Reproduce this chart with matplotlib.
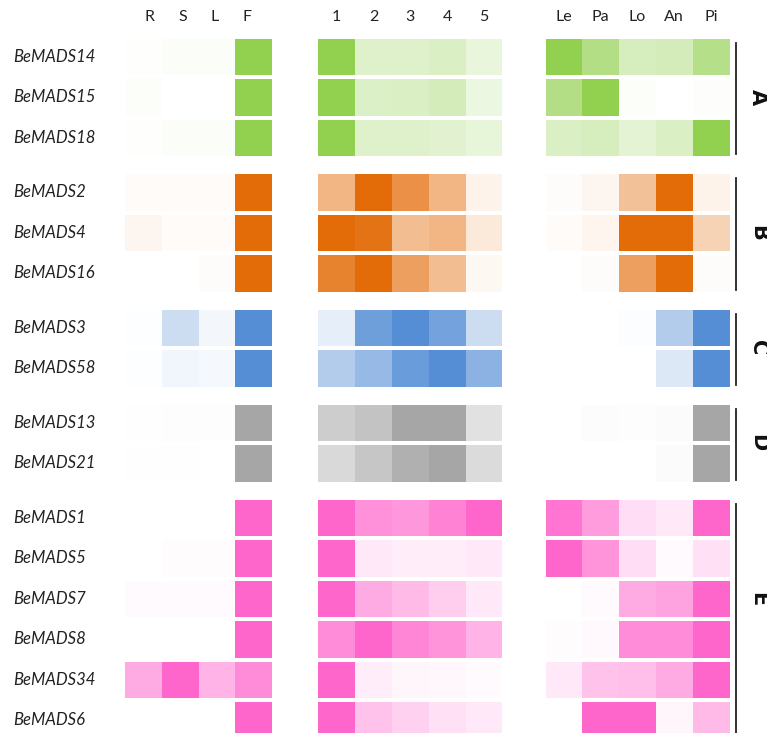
import numpy as np
import matplotlib.pyplot as plt
from matplotlib.patches import Rectangle
from matplotlib.colors import to_rgb

genes = ['BeMADS14', 'BeMADS15', 'BeMADS18',
         'BeMADS2', 'BeMADS4', 'BeMADS16',
         'BeMADS3', 'BeMADS58',
         'BeMADS13', 'BeMADS21',
         'BeMADS1', 'BeMADS5', 'BeMADS7', 'BeMADS8', 'BeMADS34', 'BeMADS6']
group_names = ['A', 'B', 'C', 'D', 'E']
group_sizes = [3, 3, 2, 2, 6]
group_colors = ['#92D050', '#E36C09', '#558ED5', '#A6A6A6', '#FF66CC']
label_row = [1, 1, 0.5, 0.5, 2]  # row (within group) the side letter sits on

tissue_cols = ['R', 'S', 'L', 'F']
stage_cols = ['1', '2', '3', '4', '5']
organ_cols = ['Le', 'Pa', 'Lo', 'An', 'Pi']

# relative expression, 0 = white, 1 = full group colour
tissue = [
    [0.01, 0.04, 0.04, 1.0],
    [0.03, 0.00, 0.00, 1.0],
    [0.01, 0.04, 0.04, 1.0],
    [0.03, 0.03, 0.03, 1.0],
    [0.06, 0.03, 0.03, 1.0],
    [0.00, 0.00, 0.02, 1.0],
    [0.01, 0.30, 0.07, 1.0],
    [0.01, 0.08, 0.06, 1.0],
    [0.01, 0.02, 0.02, 1.0],
    [0.01, 0.01, 0.00, 1.0],
    [0.00, 0.00, 0.00, 1.0],
    [0.00, 0.02, 0.02, 1.0],
    [0.03, 0.03, 0.03, 1.0],
    [0.00, 0.00, 0.00, 1.0],
    [0.55, 1.00, 0.50, 0.75],
    [0.00, 0.00, 0.00, 1.0],
]
stage = [
    [1.0, 0.30, 0.30, 0.33, 0.20],
    [1.0, 0.32, 0.33, 0.40, 0.18],
    [1.0, 0.30, 0.30, 0.27, 0.22],
    [0.50, 1.0, 0.75, 0.50, 0.08],
    [1.0, 0.95, 0.45, 0.50, 0.15],
    [0.85, 1.0, 0.65, 0.45, 0.05],
    [0.15, 0.85, 1.0, 0.82, 0.30],
    [0.45, 0.62, 0.88, 1.0, 0.68],
    [0.56, 0.67, 1.0, 1.0, 0.34],
    [0.43, 0.64, 0.89, 1.0, 0.40],
    [1.0, 0.72, 0.68, 0.82, 1.0],
    [1.0, 0.15, 0.12, 0.12, 0.15],
    [1.0, 0.55, 0.45, 0.33, 0.15],
    [0.75, 1.0, 0.80, 0.70, 0.50],
    [1.0, 0.12, 0.06, 0.05, 0.03],
    [1.0, 0.40, 0.30, 0.20, 0.15],
]
organ = [
    [1.0, 0.70, 0.38, 0.40, 0.68],
    [0.70, 1.0, 0.03, 0.00, 0.02],
    [0.33, 0.38, 0.25, 0.33, 1.0],
    [0.02, 0.06, 0.42, 1.0, 0.08],
    [0.03, 0.07, 1.0, 1.0, 0.30],
    [0.00, 0.02, 0.65, 1.0, 0.02],
    [0.00, 0.00, 0.02, 0.45, 1.0],
    [0.00, 0.00, 0.00, 0.20, 1.0],
    [0.00, 0.03, 0.02, 0.04, 1.0],
    [0.00, 0.00, 0.00, 0.04, 1.0],
    [0.90, 0.65, 0.22, 0.15, 1.0],
    [1.0, 0.70, 0.22, 0.03, 0.20],
    [0.00, 0.03, 0.55, 0.60, 1.0],
    [0.02, 0.04, 0.75, 0.75, 1.0],
    [0.15, 0.40, 0.42, 0.55, 1.0],
    [0.00, 1.0, 1.0, 0.06, 0.45],
]

# layout (pixel units)
W, H = 767, 733
cw, ch = 36.8, 36.7
pitch, ggap, top = 40.5, 14, 38.5
panel_x = [124.9, 318.3, 545.5]
panels = [(tissue_cols, tissue, 0.88), (stage_cols, stage, 1.0), (organ_cols, organ, 1.0)]

group_of = np.repeat(np.arange(len(group_sizes)), group_sizes)
row_top = top + np.arange(len(genes)) * pitch + group_of * ggap

fig = plt.figure(figsize=(W / 100, H / 100), dpi=100)
ax = fig.add_axes([0, 0, 1, 1])
ax.set_xlim(0, W)
ax.set_ylim(H, 0)
ax.axis('off')

for (cols, vals, hstep), x0 in zip(panels, panel_x):
    vals = np.array(vals)
    for i in range(len(genes)):
        base = np.array(to_rgb(group_colors[group_of[i]]))
        for j in range(len(cols)):
            c = 1 - vals[i, j] * (1 - base)
            ax.add_patch(Rectangle((x0 + j * cw, row_top[i]), cw, ch,
                                   facecolor=c, edgecolor='none'))
    # column headers
    mid = x0 + len(cols) * cw / 2
    for j, name in enumerate(cols):
        hx = mid + (j - (len(cols) - 1) / 2) * cw * hstep
        ax.text(hx, 17, name, ha='center', va='center', fontsize=11.5,
                color='#222222', family='Lato')

for i, g in enumerate(genes):
    ax.text(13, row_top[i] + ch / 2, g, ha='left', va='center', fontsize=12,
            style='italic', color='#222222', family='Lato')

# group brackets and letters
start = 0
for k, (name, n) in enumerate(zip(group_names, group_sizes)):
    y0 = row_top[start] + 4
    y1 = row_top[start + n - 1] + ch - 2
    ax.plot([736, 736], [y0, y1], color='#222222', lw=1.3)
    ly = row_top[start] + label_row[k] * pitch + ch / 2
    ax.text(758, ly, name, rotation=-90, ha='center', va='center',
            fontsize=15, fontweight='bold', color='#111111')
    start += n

fig.savefig('out.png', dpi=100, facecolor='white')
